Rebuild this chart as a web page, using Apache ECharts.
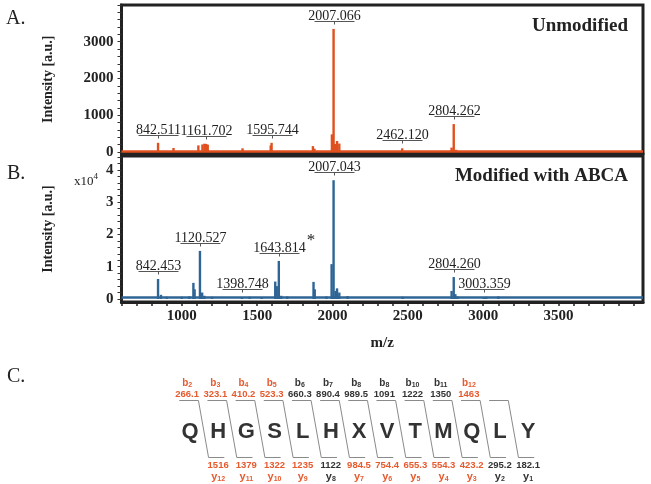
<!DOCTYPE html>
<html><head><meta charset="utf-8">
<script src="https://cdn.jsdelivr.net/npm/echarts@6/dist/echarts.min.js"></script>
<style>html,body{margin:0;padding:0;background:#fff}#c{width:651px;height:484px}</style>
</head><body><div id="c"></div>
<script>
// ---------- data ----------
const mzRange = [600, 4060];
const mzTickLabels = [1000, 1500, 2000, 2500, 3000, 3500];
const intensityLabelsA = [0, 1000, 2000, 3000];
const intensityLabelsB = [0, 10000, 20000, 30000, 40000];

// panel A (unmodified) peaks: [m/z, intensity a.u.]
const peaksA = [
  [842.511, 250], [945, 110], [1110, 180], [1137, 205], [1150, 225], [1161.702, 220], [1172, 200],
  [1403, 100], [1590, 180], [1595.744, 250], [1870, 160], [1880, 90], [1996, 480],
  [2007.066, 3350], [2018, 220], [2030, 300], [2045, 230], [2462.120, 100], [2790, 120],
  [2804.262, 760], [2820, 60]
];
// panel B (modified with ABCA) peaks
const peaksB = [
  [842.453, 6200], [862, 1300], [900, 700], [1000, 700], [1050, 800], [1077, 5000], [1085, 3000],
  [1120.527, 14900], [1135, 2000], [1150, 1000], [1200, 700], [1398.748, 600], [1450, 700],
  [1530, 600], [1620, 5400], [1630, 4000], [1643.814, 11800], [1660, 1000], [1700, 800],
  [1874, 5300], [1882, 3000], [1960, 800], [1994, 10800], [2007.043, 36800], [2020, 2500],
  [2030, 3300], [2045, 2000], [2100, 900], [2465, 700], [2790, 2500], [2804.260, 6800],
  [2815, 1500], [2830, 800], [3003.359, 600], [3020, 700], [3100, 800]
];
const labelledA = [842.511, 1161.702, 1595.744, 2007.066, 2462.120, 2804.262];
const labelledB = [842.453, 1120.527, 1398.748, 1643.814, 2007.043, 2804.260, 3003.359];
const starredB = [1643.814];
const baselineA = 25;
const baselineB = 500;

// panel C: fragmentation map
const residues = ['Q','H','G','S','L','H','X','V','T','M','Q','L','Y'];
const bIonNames = ['2','3','4','5','6','7','8','8','10','11','12'];
const bIonMasses = ['266.1','323.1','410.2','523.3','660.3','890.4','989.5','1091','1222','1350','1463'];
const bIonObserved = [1,1,1,1,0,0,0,0,0,0,1];
const yIonNames = ['12','11','10','9','8','7','6','5','4','3','2','1'];
const yIonMasses = ['1516','1379','1322','1235','1122','984.5','754.4','655.3','554.3','423.2','295.2','182.1'];
const yIonObserved = [1,1,1,1,0,1,1,1,1,1,0,0];

// ---------- styles ----------
const SERIF = '"Liberation Serif","Times New Roman",serif';
const SANS = '"Liberation Sans",Arial,sans-serif';
const colA = '#e0501f', colB = '#2e6595';
const RED = '#e65a2e', DARK = '#333333';

const chart = echarts.init(document.getElementById('c'), null, {renderer: 'canvas'});

function stepTicks(a, b, s) { const r = []; for (let v = a; v <= b + 1e-9; v += s) r.push(v); return r; }

const measureCtx = document.createElement('canvas').getContext('2d');
function textWidth(t, font) { measureCtx.font = font; return measureCtx.measureText(t).width; }

function annotation(xi, yi, peaks, labelled, starred) {
  const data = labelled.map(mz => peaks.find(q => q[0] === mz));
  const font = '14px ' + SERIF;
  return {
    type: 'custom', xAxisIndex: xi, yAxisIndex: yi, z: 6, silent: true, clip: false,
    data,
    renderItem(params, api) {
      const mz = api.value(0), h = api.value(1);
      const p = api.coord([mz, h]);
      const x = Math.round(p[0]) + 0.5, yl = Math.round(p[1] - 8) + 0.5;
      const text = mz.toFixed(3);
      const children = [
        {type: 'line', shape: {x1: x - 20, y1: yl, x2: x + 20, y2: yl}, style: {stroke: '#555', lineWidth: 1}},
        {type: 'line', shape: {x1: x, y1: yl, x2: x, y2: yl + 3}, style: {stroke: '#555', lineWidth: 1}},
        {type: 'text', x: x, y: yl + 2, style: {text, font, fill: '#222', align: 'center', verticalAlign: 'bottom'}}
      ];
      if (starred.indexOf(mz) >= 0) {
        const w = textWidth(text, font);
        children.push({type: 'text', x: x + w / 2 + 1, y: yl - 4, style: {text: '*', font: '17px ' + SERIF, fill: '#222', align: 'left', verticalAlign: 'bottom'}});
      }
      return {type: 'group', children};
    }
  };
}

function spectrum(xi, yi, peaks, color, base) {
  return {
    type: 'bar', xAxisIndex: xi, yAxisIndex: yi, data: peaks, barWidth: 2.4, silent: true,
    itemStyle: {color}, z: 3,
    markLine: {silent: true, symbol: 'none', animation: false, label: {show: false},
      lineStyle: {color, width: 2.5, type: 'solid'}, data: [{yAxis: base}]}
  };
}

const fragRows = {bName: 13, bMass: 24, top: 30, letter: 62, bottom: 87, yMass: 95, yName: 107};

const fragSeries = {
  type: 'custom', xAxisIndex: 2, yAxisIndex: 2, silent: true, clip: false,
  data: residues.map((r, i) => [i + 1, 0]),
  renderItem(params, api) {
    const k = api.value(0);
    const i = params.dataIndex;
    const top = api.coord([0, 1])[1];
    const X = v => api.coord([v, 1])[0];
    const ch = [];
    ch.push({type: 'text', x: X(k), y: top + fragRows.letter, style: {text: residues[i], font: 'bold 22px ' + SANS, fill: DARK, align: 'center', verticalAlign: 'middle'}});
    if (i < bIonNames.length) {
      const c = bIonObserved[i] ? RED : DARK;
      ch.push({type: 'text', x: X(k - 0.1), y: top + fragRows.bName, style: {
        text: '{n|b}{s|' + bIonNames[i] + '}', align: 'center', verticalAlign: 'middle',
        rich: {n: {font: 'bold 10px ' + SANS, fill: c, lineHeight: 12, verticalAlign: 'middle'},
               s: {font: 'bold 7px ' + SANS, fill: c, lineHeight: 12, verticalAlign: 'bottom', padding: [4, 0, 0, 0]}}}});
      ch.push({type: 'text', x: X(k - 0.1), y: top + fragRows.bMass, style: {text: bIonMasses[i], font: 'bold 9.5px ' + SANS, fill: c, align: 'center', verticalAlign: 'middle'}});
    }
    if (i >= 1) {
      const j = i - 1;
      const c = yIonObserved[j] ? RED : DARK;
      ch.push({type: 'text', x: X(k), y: top + fragRows.yMass, style: {text: yIonMasses[j], font: 'bold 9.5px ' + SANS, fill: c, align: 'center', verticalAlign: 'middle'}});
      ch.push({type: 'text', x: X(k), y: top + fragRows.yName, style: {
        text: '{n|y}{s|' + yIonNames[j] + '}', align: 'center', verticalAlign: 'middle',
        rich: {n: {font: 'bold 11px ' + SANS, fill: c, lineHeight: 12, verticalAlign: 'middle'},
               s: {font: 'bold 7px ' + SANS, fill: c, lineHeight: 12, verticalAlign: 'bottom', padding: [4, 0, 0, 0]}}}});
    }
    if (i < residues.length - 1) {
      const yt = top + fragRows.top + 0.5, yb = top + fragRows.bottom + 0.5;
      ch.push({type: 'polyline', shape: {points: [[X(k - 0.38), yt], [X(k + 0.3), yt], [X(k + 0.66), yb], [X(k + 1.22), yb]]},
        style: {stroke: '#8a8a8a', lineWidth: 1, fill: null}});
    }
    return {type: 'group', children: ch};
  }
};

const gridA = {left: 121.5, right: 8, top: 5, height: 148.5};
const gridB = {left: 121.5, right: 8, top: 156, height: 146};

function yAxisCfg(grid, min, max, labels, minorStep, fmt) {
  return {
    gridIndex: grid, type: 'value', min, max,
    axisLine: {show: true, lineStyle: {color: '#222', width: 3}},
    axisTick: {show: true, customValues: stepTicks(0, max, minorStep), length: 4, lineStyle: {color: '#333', width: 1}},
    axisLabel: {customValues: labels, formatter: fmt, fontFamily: SERIF, fontWeight: 'bold', fontSize: 15, color: '#222', margin: 8},
    splitLine: {show: false},
    name: 'Intensity [a.u.]', nameLocation: 'middle', nameGap: 66,
    nameTextStyle: {fontFamily: SERIF, fontWeight: 'bold', fontSize: 14, color: '#222'}
  };
}

const option = {
  backgroundColor: '#ffffff',
  animation: false,
  grid: [
    Object.assign({show: true, borderColor: '#222', borderWidth: 3, backgroundColor: 'transparent'}, gridA),
    Object.assign({show: true, borderColor: '#222', borderWidth: 3, backgroundColor: 'transparent'}, gridB),
    {left: 161.8, width: 394.4, top: 370, height: 114}
  ],
  xAxis: [
    {gridIndex: 0, type: 'value', min: mzRange[0], max: mzRange[1],
      axisLine: {show: true, onZero: false, lineStyle: {color: '#222', width: 3}},
      axisTick: {show: false}, axisLabel: {show: false}, splitLine: {show: false}},
    {gridIndex: 1, type: 'value', min: mzRange[0], max: mzRange[1],
      axisLine: {show: true, onZero: false, lineStyle: {color: '#222', width: 3}},
      axisTick: {show: true, customValues: stepTicks(600, 4000, 100), length: 4, lineStyle: {color: '#222', width: 1.5}},
      axisLabel: {customValues: mzTickLabels, formatter: v => String(v), fontFamily: SERIF, fontWeight: 'bold', fontSize: 15, color: '#222', margin: 7},
      splitLine: {show: false},
      name: 'm/z', nameLocation: 'middle', nameGap: 34,
      nameTextStyle: {fontFamily: SERIF, fontWeight: 'bold', fontSize: 15, color: '#222'}},
    {gridIndex: 2, type: 'value', min: 0, max: 14, show: false}
  ],
  yAxis: [
    yAxisCfg(0, -41, 4000, intensityLabelsA, 200, v => String(v)),
    yAxisCfg(1, -930, 44300, intensityLabelsB, 2000, v => String(v / 10000)),
    {gridIndex: 2, type: 'value', min: 0, max: 1, show: false}
  ],
  graphic: [
    {type: 'text', left: 6, top: 9, style: {text: 'A.', font: '20px ' + SERIF, fill: '#222'}},
    {type: 'text', left: 7, top: 164, style: {text: 'B.', font: '20px ' + SERIF, fill: '#222'}},
    {type: 'text', left: 7, top: 367, style: {text: 'C.', font: '20px ' + SERIF, fill: '#222'}},
    {type: 'text', right: 23, top: 17, style: {text: 'Unmodified', font: 'bold 19px ' + SERIF, fill: '#222'}},
    {type: 'text', right: 23, top: 167, style: {text: 'Modified with ABCA', font: 'bold 19px ' + SERIF, fill: '#222'}},
    {type: 'text', left: 74, top: 172, style: {text: '{a|x10}{b|4}', rich: {a: {font: '13px ' + SERIF, fill: '#222', lineHeight: 16, verticalAlign: 'bottom'}, b: {font: '9px ' + SERIF, fill: '#222', lineHeight: 16, verticalAlign: 'top'}}}}
  ],
  series: [
    spectrum(0, 0, peaksA, colA, baselineA),
    spectrum(1, 1, peaksB, colB, baselineB),
    annotation(0, 0, peaksA, labelledA, []),
    annotation(1, 1, peaksB, labelledB, starredB),
    fragSeries
  ]
};
chart.setOption(option);
</script></body></html>
